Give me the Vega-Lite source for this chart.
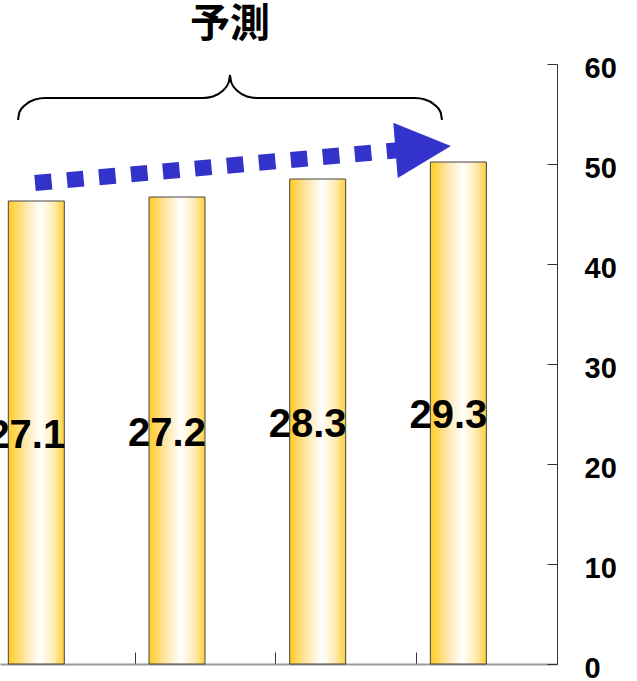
{
  "$schema": "https://vega.github.io/schema/vega-lite/v6.json",
  "autosize": "none",
  "width": 557,
  "height": 600,
  "padding": {"left": 0, "top": 64, "right": 80, "bottom": 17},
  "background": "white",
  "config": {"view": {"stroke": null}},
  "datasets": {
    "bars": [
      {"i": 0, "value": 46.3, "label": "27.1"},
      {"i": 1, "value": 46.7, "label": "27.2"},
      {"i": 2, "value": 48.5, "label": "28.3"},
      {"i": 3, "value": 50.2, "label": "29.3"}
    ],
    "brace": [
      {"side": "L", "x": -0.1301, "y": 54.4},
      {"side": "L", "x": -0.1194, "y": 55.2},
      {"side": "L", "x": -0.0739, "y": 55.96},
      {"side": "L", "x": -0.0092, "y": 56.45},
      {"side": "L", "x": 0.0618, "y": 56.6},
      {"side": "L", "x": 1.1848, "y": 56.6},
      {"side": "L", "x": 1.2559, "y": 56.75},
      {"side": "L", "x": 1.3205, "y": 57.27},
      {"side": "L", "x": 1.3660, "y": 58.1},
      {"side": "L", "x": 1.3767, "y": 58.9},
      {"side": "R", "x": 1.3767, "y": 58.9},
      {"side": "R", "x": 1.3873, "y": 58.1},
      {"side": "R", "x": 1.4328, "y": 57.27},
      {"side": "R", "x": 1.4975, "y": 56.75},
      {"side": "R", "x": 1.5686, "y": 56.6},
      {"side": "R", "x": 2.6915, "y": 56.6},
      {"side": "R", "x": 2.7626, "y": 56.45},
      {"side": "R", "x": 2.8273, "y": 55.96},
      {"side": "R", "x": 2.8728, "y": 55.2},
      {"side": "R", "x": 2.8834, "y": 54.4}
    ],
    "arrow": [
      {"x": -0.0092, "y": 48.1, "x2": 2.5707, "y2": 51.37}
    ],
    "head": [
      {"x": 2.7498, "y": 51.58}
    ],
    "title": [
      {"x": 1.3767, "y": 63.9, "text": "予測"}
    ]
  },
  "resolve": {"scale": {"y": "independent"}, "axis": {"y": "independent"}},
  "layer": [
    {
      "data": {"name": "bars"},
      "mark": {
        "type": "bar",
        "width": 56,
        "stroke": "#444444",
        "strokeWidth": 1,
        "color": {
          "gradient": "linear",
          "x1": 0, "x2": 1, "y1": 0, "y2": 0,
          "stops": [
            {"offset": 0, "color": "#FFCC22"},
            {"offset": 0.3, "color": "#FFE6A8"},
            {"offset": 0.57, "color": "#FFFFFF"},
            {"offset": 0.8, "color": "#FFEDB8"},
            {"offset": 1, "color": "#FFCF3A"}
          ]
        }
      },
      "encoding": {
        "x": {
          "field": "i", "type": "quantitative",
          "scale": {"domain": [-0.258, 3.701], "nice": false, "zero": false, "padding": 0},
          "axis": {
            "orient": "bottom", "values": [0.7, 1.7, 2.7], "labels": false, "title": null,
            "grid": false, "domainColor": "#999999", "domainWidth": 2,
            "tickColor": "#333333", "tickSize": -12, "tickWidth": 1
          }
        },
        "y": {
          "field": "value", "type": "quantitative",
          "scale": {"domain": [0, 60], "nice": false, "zero": true, "padding": 0},
          "axis": {
            "orient": "right", "values": [0, 10, 20, 30, 40, 50, 60], "title": null,
            "grid": false, "domainColor": "#333333", "domainWidth": 1,
            "tickColor": "#333333", "tickSize": -10, "tickWidth": 1,
            "labelPadding": 37, "labelAlign": "left", "labelBaseline": "middle", "labelOffset": 4,
            "labelFont": "Liberation Sans", "labelFontSize": 29, "labelFontWeight": "bold",
            "labelColor": "#000000"
          }
        }
      }
    },
    {
      "data": {"name": "bars"},
      "mark": {"type": "text", "font": "Liberation Sans", "fontSize": 40, "fontWeight": "bold", "color": "#000000", "baseline": "middle", "align": "center", "dx": -10, "dy": 3},
      "encoding": {
        "x": {"field": "i", "type": "quantitative", "scale": {"domain": [-0.258, 3.701], "nice": false, "zero": false, "padding": 0}},
        "y": {"field": "value", "type": "quantitative", "scale": {"domain": [0, 120], "nice": false}, "axis": null},
        "text": {"field": "label"}
      }
    },
    {
      "data": {"name": "brace"},
      "mark": {"type": "line", "interpolate": "monotone", "color": "#000000", "strokeWidth": 2},
      "encoding": {
        "x": {"field": "x", "type": "quantitative", "scale": {"domain": [-0.258, 3.701], "nice": false, "zero": false, "padding": 0}},
        "y": {"field": "y", "type": "quantitative", "scale": {"domain": [0, 60], "nice": false}, "axis": null},
        "detail": {"field": "side"}
      }
    },
    {
      "data": {"name": "arrow"},
      "mark": {"type": "rule", "color": "#3333CC", "strokeWidth": 16, "strokeDash": [16.7, 15.4], "strokeCap": "butt"},
      "encoding": {
        "x": {"field": "x", "type": "quantitative", "scale": {"domain": [-0.258, 3.701], "nice": false, "zero": false, "padding": 0}},
        "y": {"field": "y", "type": "quantitative", "scale": {"domain": [0, 60], "nice": false}, "axis": null},
        "x2": {"field": "x2"},
        "y2": {"field": "y2"}
      }
    },
    {
      "data": {"name": "head"},
      "mark": {"type": "point", "shape": "M-1,-1L1,0L-1,1Z", "size": 3080, "angle": -4.6, "filled": true, "color": "#3333CC", "opacity": 1, "strokeWidth": 0},
      "encoding": {
        "x": {"field": "x", "type": "quantitative", "scale": {"domain": [-0.258, 3.701], "nice": false, "zero": false, "padding": 0}},
        "y": {"field": "y", "type": "quantitative", "scale": {"domain": [0, 60], "nice": false}, "axis": null}
      }
    },
    {
      "data": {"name": "title"},
      "mark": {"type": "text", "font": "Noto Sans CJK JP", "fontSize": 40, "fontWeight": "bold", "color": "#000000", "baseline": "middle", "align": "center"},
      "encoding": {
        "x": {"field": "x", "type": "quantitative", "scale": {"domain": [-0.258, 3.701], "nice": false, "zero": false, "padding": 0}},
        "y": {"field": "y", "type": "quantitative", "scale": {"domain": [0, 60], "nice": false}, "axis": null},
        "text": {"field": "text"}
      }
    }
  ]
}
